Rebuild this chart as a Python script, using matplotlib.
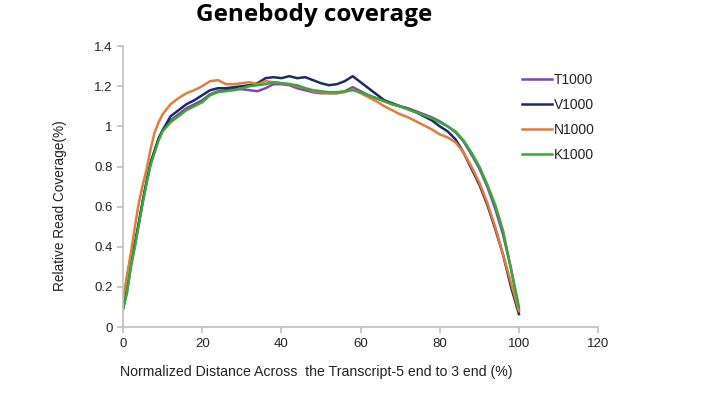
import numpy as np
import matplotlib.pyplot as plt

plt.rcParams['font.family'] = ['Liberation Sans', 'DejaVu Sans']

# Data
x = [0, 1, 2, 3, 4, 5, 6, 7, 8, 9, 10, 12, 14, 16, 18, 20, 22, 24, 26, 28,
     30, 32, 34, 36, 38, 40, 42, 44, 46, 48, 50, 52, 54, 56, 58, 60, 62, 64,
     66, 68, 70, 72, 74, 76, 78, 80, 82, 84, 86, 88, 90, 92, 94, 96, 98, 100]

t1000 = [0.10, 0.25, 0.36, 0.42, 0.52, 0.63, 0.73, 0.82, 0.88, 0.94, 0.98,
         1.03, 1.06, 1.09, 1.11, 1.13, 1.16, 1.175, 1.18, 1.185, 1.185, 1.18,
         1.175, 1.19, 1.21, 1.21, 1.205, 1.19, 1.18, 1.17, 1.165, 1.165, 1.165,
         1.175, 1.195, 1.175, 1.155, 1.14, 1.125, 1.11, 1.10, 1.09, 1.075,
         1.06, 1.045, 1.025, 1.00, 0.97, 0.925, 0.86, 0.79, 0.70, 0.59, 0.46,
         0.29, 0.09]

v1000 = [0.09, 0.18, 0.31, 0.41, 0.52, 0.63, 0.73, 0.82, 0.88, 0.94, 0.98,
         1.05, 1.08, 1.11, 1.13, 1.155, 1.18, 1.19, 1.19, 1.195, 1.20, 1.205,
         1.215, 1.24, 1.245, 1.24, 1.25, 1.24, 1.245, 1.23, 1.215, 1.205, 1.21,
         1.225, 1.25, 1.22, 1.19, 1.16, 1.13, 1.115, 1.10, 1.085, 1.07, 1.05,
         1.03, 1.00, 0.975, 0.935, 0.87, 0.79, 0.71, 0.61, 0.49, 0.36, 0.20,
         0.065]

n1000 = [0.14, 0.25, 0.37, 0.50, 0.62, 0.71, 0.79, 0.89, 0.97, 1.02, 1.06,
         1.11, 1.14, 1.165, 1.18, 1.20, 1.225, 1.23, 1.21, 1.21, 1.215, 1.22,
         1.21, 1.225, 1.22, 1.215, 1.21, 1.20, 1.19, 1.175, 1.17, 1.165, 1.165,
         1.17, 1.185, 1.165, 1.145, 1.125, 1.10, 1.08, 1.06, 1.045, 1.025,
         1.005, 0.985, 0.96, 0.945, 0.92, 0.87, 0.80, 0.72, 0.62, 0.50, 0.36,
         0.22, 0.08]

k1000 = [0.09, 0.17, 0.30, 0.40, 0.51, 0.62, 0.72, 0.81, 0.87, 0.93, 0.975,
         1.02, 1.05, 1.08, 1.10, 1.12, 1.155, 1.17, 1.175, 1.18, 1.19, 1.20,
         1.205, 1.21, 1.22, 1.215, 1.21, 1.205, 1.19, 1.18, 1.175, 1.17, 1.17,
         1.175, 1.18, 1.17, 1.155, 1.14, 1.125, 1.11, 1.10, 1.085, 1.07, 1.055,
         1.04, 1.02, 1.00, 0.975, 0.93, 0.87, 0.80, 0.71, 0.61, 0.48, 0.29,
         0.10]

labels = ['T1000', 'V1000', 'N1000', 'K1000']
colors = ['#8243b8', '#1d2a66', '#e07c3e', '#3aa935']

fig = plt.figure(figsize=(7.07, 3.97), dpi=100)
ax = fig.add_axes([0.174, 0.176, 0.672, 0.708])

for y, lab, c in zip([t1000, v1000, n1000, k1000], labels, colors):
    ax.plot(x, y, color=c, lw=1.8, label=lab)

ax.set_xlim(0, 120)
ax.set_ylim(0, 1.4)
ax.set_xticks(np.arange(0, 121, 20))
ax.set_yticks(np.arange(0, 1.41, 0.2))
ax.set_yticklabels(['0', '0.2', '0.4', '0.6', '0.8', '1', '1.2', '1.4'])

for s in ['top', 'right']:
    ax.spines[s].set_visible(False)
for s in ['left', 'bottom']:
    ax.spines[s].set_color('#bfbfbf')
    ax.spines[s].set_linewidth(1.2)
ax.tick_params(colors='#bfbfbf', labelcolor='#222222', labelsize=9.5,
               length=4, width=1.2, direction='out')

ax.set_xlabel('Normalized Distance Across  the Transcript-5 end to 3 end (%)',
              fontsize=10.2, color='#222222')
ax.xaxis.set_label_coords(0.406, -0.135)
ax.set_ylabel('Relative Read Coverage(%)', fontsize=9.8, color='#222222')
ax.yaxis.set_label_coords(-0.117, 0.434)

fig.text(0.445, 0.962, 'Genebody coverage', ha='center', va='center',
         fontsize=17.5, fontweight='bold', family=['Open Sans', 'DejaVu Sans'])

fig.legend(loc='upper left', bbox_to_anchor=(0.72, 0.848), frameon=False,
           fontsize=10, handlelength=2.2, handletextpad=0.1,
           labelspacing=0.8, labelcolor='#222222')

fig.savefig('out.png', dpi=100)
